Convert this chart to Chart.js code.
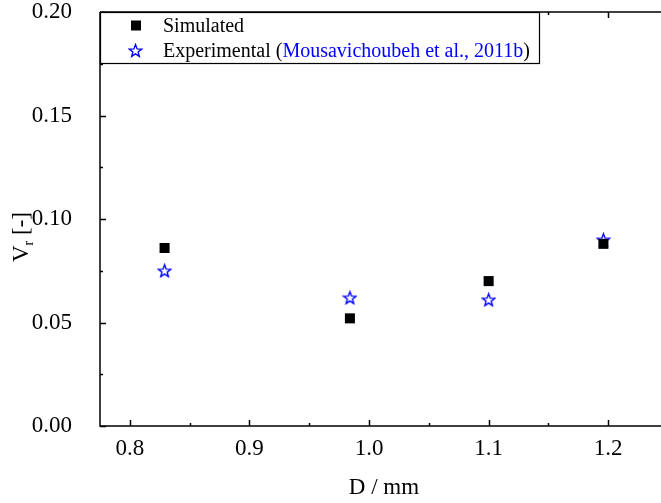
<!DOCTYPE html>
<html>
<head>
<meta charset="utf-8">
<script src="https://cdn.jsdelivr.net/npm/chart.js@4.4.0/dist/chart.umd.min.js"></script>
<style>
  html, body { margin: 0; padding: 0; background: #fff; overflow: hidden; }
  canvas { display: block; }
</style>
</head>
<body>
<canvas id="chart" width="661" height="503"></canvas>
<script>
// droplet diameter D (mm) vs. V_r
const diameters = [0.829, 0.984, 1.100, 1.196];
const simulated = [0.086, 0.052, 0.070, 0.088];
const experimental = [0.075, 0.062, 0.061, 0.090];

const xTicks = [0.8, 0.9, 1.0, 1.1, 1.2];
const yTicks = [0.00, 0.05, 0.10, 0.15, 0.20];

const SERIF = '"Liberation Serif", "Times New Roman", serif';
const BLUE = '#0000ff';
const PLOT_RIGHT = 668; // the frame runs a little past the canvas edge

// hollow five-point star used as point style
function makeStar(size, color) {
  const c = document.createElement('canvas');
  c.width = size; c.height = size;
  const g = c.getContext('2d');
  const cx = size / 2, cy = size / 2 + 0.6;
  const R = size / 2 - 1, r = R * 0.42;
  g.beginPath();
  for (let i = 0; i < 10; i++) {
    const a = -Math.PI / 2 + i * Math.PI / 5;
    const rad = i % 2 === 0 ? R : r;
    const px = cx + rad * Math.cos(a), py = cy + rad * Math.sin(a);
    i === 0 ? g.moveTo(px, py) : g.lineTo(px, py);
  }
  g.closePath();
  g.strokeStyle = color;
  g.lineWidth = 1.4;
  g.stroke();
  return c;
}
const starImg = makeStar(15, BLUE);

// no extra room around the plot for the end tick labels
function noPad(s) {
  s.paddingTop = 0; s.paddingBottom = 0;
  s.paddingLeft = 0; s.paddingRight = 0;
}

const frame = {
  id: 'frame',
  afterLayout(chart) {
    const x = chart.scales.x;
    x.right = PLOT_RIGHT;
    x.width = x.right - x.left;
    x.configure();
    chart.chartArea.right = PLOT_RIGHT;
    chart.chartArea.width = PLOT_RIGHT - chart.chartArea.left;
  },
  afterDraw(chart) {
    const { ctx, chartArea: a, scales: { x, y } } = chart;
    ctx.save();
    ctx.strokeStyle = '#000';
    ctx.lineWidth = 1.5;

    // axis lines (left, bottom, top)
    ctx.beginPath();
    ctx.moveTo(a.left, a.top); ctx.lineTo(a.left, a.bottom);
    ctx.lineTo(a.right, a.bottom);
    ctx.moveTo(a.left, a.top); ctx.lineTo(a.right, a.top);
    ctx.stroke();

    // inward ticks, major and minor
    ctx.beginPath();
    for (let v = 0.8; v <= 1.2501; v += 0.05) {
      const px = Math.round(x.getPixelForValue(v)) + 0.5;
      const major = Math.abs(v * 10 - Math.round(v * 10)) < 1e-6;
      const len = major ? 6 : 3;
      ctx.moveTo(px, a.bottom); ctx.lineTo(px, a.bottom - len);
      ctx.moveTo(px, a.top); ctx.lineTo(px, a.top + len);
    }
    for (let v = 0; v <= 0.2001; v += 0.025) {
      const py = Math.round(y.getPixelForValue(v)) + 0.5;
      const major = Math.abs(v * 20 - Math.round(v * 20)) < 1e-6;
      const len = major ? 6 : 3;
      ctx.moveTo(a.left, py); ctx.lineTo(a.left + len, py);
    }
    ctx.stroke();

    // axis titles
    ctx.fillStyle = '#000';
    ctx.font = '23px ' + SERIF;
    ctx.textAlign = 'center';
    ctx.textBaseline = 'alphabetic';
    ctx.fillText('D / mm', 384, 494);

    ctx.save();
    ctx.translate(28, 237);
    ctx.rotate(-Math.PI / 2);
    ctx.textAlign = 'left';
    const wV = ctx.measureText('V').width;
    ctx.font = '14px ' + SERIF;
    const wr = ctx.measureText('r').width;
    ctx.font = '23px ' + SERIF;
    const wRest = ctx.measureText(' [-]').width;
    let sx = -(wV + wr + wRest) / 2;
    ctx.fillText('V', sx, 0);
    sx += wV;
    ctx.font = '14px ' + SERIF;
    ctx.fillText('r', sx, 5);
    sx += wr;
    ctx.font = '23px ' + SERIF;
    ctx.fillText(' [-]', sx, 0);
    ctx.restore();

    // legend box
    const bx = a.left, by = 12, bw = 439, bh = 51;
    ctx.fillStyle = '#fff';
    ctx.fillRect(bx, by, bw, bh);
    ctx.lineWidth = 1.2;
    ctx.strokeRect(bx + 0.5, by + 0.5, bw, bh);

    ctx.fillStyle = '#000';
    ctx.fillRect(131, 20.5, 10, 10);
    ctx.drawImage(starImg, 135.5 - 7.5, 50.5 - 7.5);

    ctx.font = '20px ' + SERIF;
    ctx.textAlign = 'left';
    ctx.textBaseline = 'alphabetic';
    ctx.fillText('Simulated', 163, 32);
    let tx = 163;
    const parts = [['Experimental (', '#000'], ['Mousavichoubeh et al., 2011b', BLUE], [')', '#000']];
    for (const [t, col] of parts) {
      ctx.fillStyle = col;
      ctx.fillText(t, tx, 57);
      tx += ctx.measureText(t).width;
    }
    ctx.restore();
  }
};

new Chart(document.getElementById('chart'), {
  type: 'scatter',
  data: {
    datasets: [
      {
        label: 'Simulated',
        data: diameters.map((d, i) => ({ x: d, y: simulated[i] })),
        pointStyle: 'rect',
        pointRadius: 7.1,
        pointHoverRadius: 7.1,
        backgroundColor: '#000',
        borderColor: '#000',
        borderWidth: 0
      },
      {
        label: 'Experimental (Mousavichoubeh et al., 2011b)',
        data: diameters.map((d, i) => ({ x: d, y: experimental[i] })),
        pointStyle: starImg,
        pointRadius: 7.5,
        pointHoverRadius: 7.5
      }
    ]
  },
  options: {
    responsive: false,
    animation: false,
    events: [],
    layout: { padding: { top: 12, left: 0, right: 0, bottom: 0 } },
    plugins: { legend: { display: false }, tooltip: { enabled: false } },
    scales: {
      x: {
        type: 'linear',
        min: 0.775,
        max: 1.25,
        afterFit(s) { s.height = 77; noPad(s); },
        afterBuildTicks(s) { s.ticks = xTicks.map(v => ({ value: v })); },
        grid: { display: false, drawTicks: false },
        border: { display: false },
        ticks: {
          padding: 9,
          color: '#000',
          font: { family: SERIF, size: 23 },
          callback: v => v.toFixed(1)
        }
      },
      y: {
        type: 'linear',
        min: 0,
        max: 0.2,
        afterFit(s) { s.width = 100; noPad(s); },
        afterBuildTicks(s) { s.ticks = yTicks.map(v => ({ value: v })); },
        grid: { display: false, drawTicks: false },
        border: { display: false },
        ticks: {
          padding: 28,
          color: '#000',
          font: { family: SERIF, size: 23 },
          callback: v => v.toFixed(2)
        }
      }
    }
  },
  plugins: [frame]
});
</script>
</body>
</html>
